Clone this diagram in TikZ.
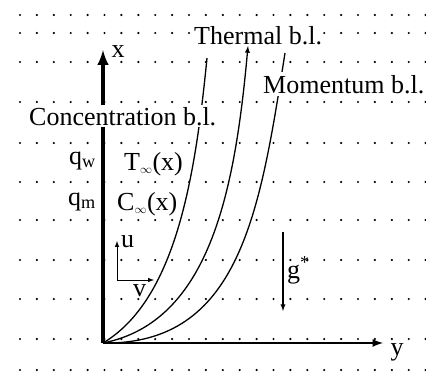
\documentclass[tikz,border=0pt]{standalone}
\usepackage{fontspec}
\setmainfont{Liberation Serif}
\usetikzlibrary{arrows}

\begin{document}
\begin{tikzpicture}[x=1pt, y=-1pt, font=\fontsize{26}{30}\selectfont,
  lbl/.style={fill=white, inner sep=2pt},
  bl/.style={line width=1.3pt}]
\useasboundingbox (0,0) rectangle (426,372);
% dot grid
\foreach \r in {15,33,62,102,143,182,220,260,299,339,370}
  \foreach \c in {0,...,24}
    \fill ({20+16.9*\c}, \r) circle (1.2pt);
\coordinate (O) at (103,343);
\coordinate (xend) at (103,50);
\coordinate (yend) at (383,343);
\coordinate (cTop) at (207,58);
\coordinate (tTop) at (248,46);
\coordinate (mTop) at (285,53);
% boundary layers
\draw [bl] (O) .. controls (175,300) and (195,180) .. (cTop);
\draw [bl, -latex] (O) .. controls (210,322) and (235,190) .. (tTop);
\draw [bl] (O) .. controls (240,345) and (260,212) .. (mTop);
% axes
\draw [line width=2.5pt, -latex] (O) -- (yend);
\draw [line width=4pt, -latex] (O) -- (xend);
\node [anchor=base west] (xl) at (108,57) {x};
\node [anchor=base west] (yl) at (387,355) {y};
% labels
\node [lbl, anchor=base west] (conc) at (27,125) {Concentration b.l.};
\node [lbl, anchor=base west, inner sep=1pt] (therm) at (193,44) {Thermal b.l.};
\node [lbl, anchor=base west, inner sep=3pt] (mom) at (260,93) {Momentum b.l.};
\node [anchor=base east, inner sep=0pt] (qw) at (96,164) {q\textsubscript{w}};
\node [anchor=base west, inner sep=0pt] (Tinf) at (124,170) {T$_{\scriptscriptstyle\infty}$(x)};
\node [anchor=base east, inner sep=0pt] (qm) at (96,205) {q\textsubscript{m}};
\node [anchor=base west, inner sep=0pt] (Cinf) at (117,210) {C$_{\scriptscriptstyle\infty}$(x)};
% velocity components
\coordinate (uv) at (117,280);
\coordinate (uend) at (117,241);
\coordinate (vend) at (154,280);
\draw [line width=1pt, -latex] (uv) -- (uend);
\draw [line width=1pt, -latex] (uv) -- (vend);
\node [anchor=base west, inner sep=0pt] (ul) at (121,247) {u};
\node [anchor=base west, inner sep=0pt] (vl) at (133,296) {v};
% gravity
\coordinate (gtop) at (283,232);
\coordinate (gbot) at (283,311);
\draw [line width=1.3pt, -latex] (gtop) -- (gbot);
\node [anchor=base west, inner sep=0pt] (gl) at (287,278) {g\textsuperscript{*}};
\end{tikzpicture}
\end{document}
